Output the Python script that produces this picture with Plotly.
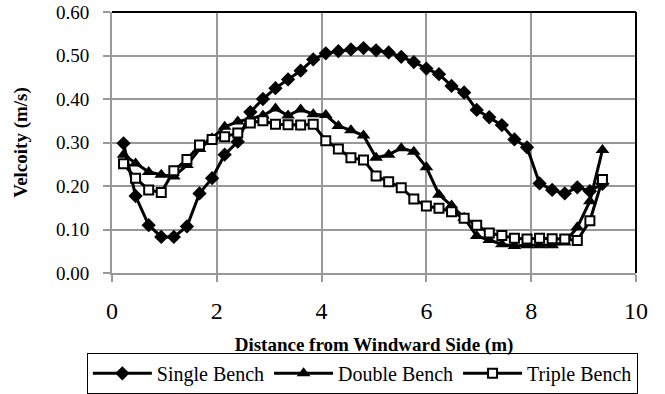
import plotly.graph_objects as go

distance = [0.22, 0.45, 0.70, 0.94, 1.18, 1.43, 1.67, 1.91, 2.15, 2.40,
            2.64, 2.88, 3.12, 3.36, 3.60, 3.84, 4.08, 4.32, 4.56, 4.80,
            5.04, 5.28, 5.52, 5.76, 6.00, 6.24, 6.48, 6.72, 6.96, 7.20,
            7.44, 7.68, 7.92, 8.16, 8.40, 8.64, 8.88, 9.12, 9.36]

single_bench = [0.298, 0.177, 0.110, 0.083, 0.083, 0.107, 0.183, 0.218, 0.272, 0.302,
                0.370, 0.400, 0.425, 0.445, 0.465, 0.491, 0.505, 0.510, 0.514, 0.517,
                0.512, 0.507, 0.497, 0.485, 0.470, 0.457, 0.430, 0.415, 0.375, 0.358,
                0.340, 0.307, 0.289, 0.206, 0.191, 0.183, 0.197, 0.188, 0.205]

double_bench = [0.272, 0.252, 0.232, 0.226, 0.222, 0.248, 0.285, 0.310, 0.336, 0.348,
                0.355, 0.362, 0.378, 0.362, 0.376, 0.365, 0.363, 0.338, 0.328, 0.316,
                0.265, 0.272, 0.287, 0.279, 0.243, 0.180, 0.155, 0.127, 0.085, 0.076,
                0.066, 0.062, 0.064, 0.064, 0.064, 0.070, 0.105, 0.165, 0.283]

triple_bench = [0.251, 0.218, 0.191, 0.185, 0.235, 0.261, 0.294, 0.307, 0.313, 0.322,
                0.345, 0.350, 0.342, 0.341, 0.340, 0.342, 0.304, 0.285, 0.265, 0.260,
                0.223, 0.210, 0.196, 0.170, 0.154, 0.149, 0.141, 0.126, 0.110, 0.092,
                0.086, 0.080, 0.078, 0.080, 0.079, 0.078, 0.075, 0.120, 0.215]

y_ticks = [0.0, 0.1, 0.2, 0.3, 0.4, 0.5, 0.6]
y_tick_labels = ["0.00", "0.10", "0.20", "0.30", "0.40", "0.50", "0.60"]
x_ticks = [0, 2, 4, 6, 8, 10]

FONT = "Liberation Serif"

fig = go.Figure()
fig.add_trace(go.Scatter(
    x=distance, y=single_bench, name="Single Bench", mode="lines+markers",
    line=dict(color="black", width=3),
    marker=dict(symbol="diamond", size=11, color="black"),
))
fig.add_trace(go.Scatter(
    x=distance, y=double_bench, name="Double Bench", mode="lines+markers",
    line=dict(color="black", width=3),
    marker=dict(symbol="triangle-up", size=12, color="black"),
))
fig.add_trace(go.Scatter(
    x=distance, y=triple_bench, name="Triple Bench", mode="lines+markers",
    line=dict(color="black", width=3),
    marker=dict(symbol="square", size=9, color="white",
                line=dict(color="black", width=2)),
))

fig.update_layout(
    width=665, height=394,
    margin=dict(l=112, r=29, t=12, b=121, autoexpand=False),
    paper_bgcolor="white", plot_bgcolor="white",
    font=dict(family=FONT, color="black"),
    showlegend=True,
    legend=dict(
        orientation="h", x=-0.048, y=-0.306, xanchor="left", yanchor="top",
        bordercolor="black", borderwidth=1, font=dict(size=20, family=FONT, color="black"),
        tracegroupgap=0, itemwidth=59,
    ),
    xaxis=dict(
        range=[0, 10], tickvals=x_ticks, showgrid=True, gridcolor="#999999", gridwidth=1.5,
        showline=True, linecolor="#999999", linewidth=2, zeroline=False,
        ticks="outside", ticklen=7, tickcolor="#999999", tickwidth=1.5,
        tickfont=dict(size=24, family=FONT, color="black"), ticklabelstandoff=8,
        automargin=False,
        title=dict(text="<b>Distance from Windward Side (m)</b>",
                   font=dict(size=19, family=FONT, color="black"), standoff=15),
    ),
    yaxis=dict(
        range=[0, 0.6], tickvals=y_ticks, ticktext=y_tick_labels,
        showgrid=True, gridcolor="#999999", gridwidth=1.5,
        showline=True, linecolor="#999999", linewidth=2, zeroline=False,
        ticks="outside", ticklen=7, tickcolor="#999999", tickwidth=1.5,
        tickfont=dict(size=19, family=FONT, color="black"), ticklabelstandoff=10,
        automargin=False,
        title=dict(text="<b>Velcoity (m/s)</b>",
                   font=dict(size=19, family=FONT, color="black"), standoff=23),
    ),
    shapes=[
        dict(type="line", xref="paper", yref="paper", x0=0, x1=1, y0=1, y1=1,
             line=dict(color="black", width=2)),
        dict(type="line", xref="paper", yref="paper", x0=1, x1=1, y0=0, y1=1,
             line=dict(color="black", width=2)),
    ],
)

fig.write_html("out.html")
